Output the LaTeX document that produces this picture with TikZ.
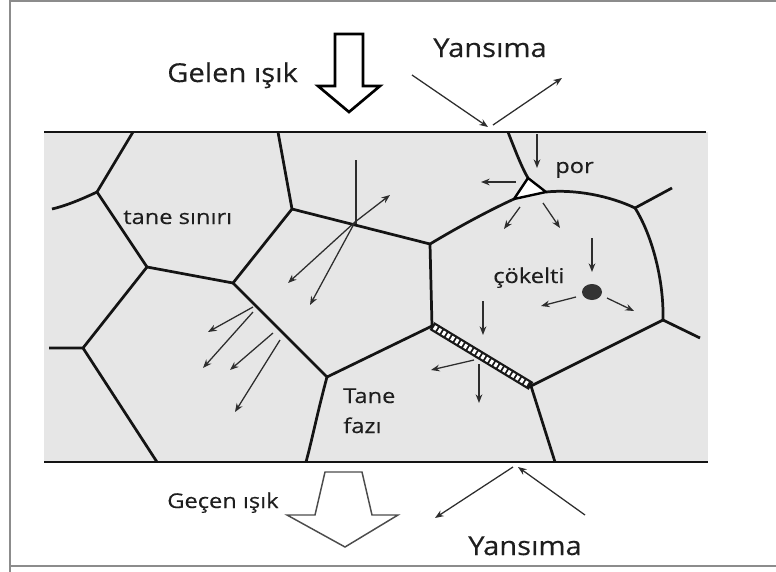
\documentclass[tikz,border=0pt]{standalone}
\usepackage{fontspec}
\setmainfont{Open Sans}
\newfontfamily\labelfont[FakeStretch=1.12, FakeBold=0.35]{Open Sans}
\newfontfamily\smalllabelfont[FakeStretch=1.16, FakeBold=0.35]{Open Sans}
\usetikzlibrary{arrows.meta,calc}
\definecolor{slabfill}{RGB}{230,230,230}
\definecolor{raycol}{RGB}{45,45,45}
\definecolor{framecol}{RGB}{140,140,140}
\definecolor{textcol}{RGB}{30,30,30}
\tikzset{
  boundary/.style={line width=2.05pt, black!92, line join=round},
  surface/.style={line width=2.2pt, black!92},
  lightray/.style={line width=0.95pt, draw=raycol, -{Stealth[length=6.5pt,width=5pt]}},
  plainray/.style={line width=0.95pt, draw=raycol},
  biglabel/.style={font=\labelfont\fontsize{19.5}{22}\selectfont, text=textcol, inner sep=0pt},
  smalllabel/.style={font=\smalllabelfont\fontsize{15.3}{17}\selectfont, text=textcol, inner sep=0pt},
  hollow/.style={fill=white, draw=black, line join=miter}
}
\begin{document}
\begin{tikzpicture}[x=0.75pt,y=-0.75pt]
\useasboundingbox (0,0) rectangle (776,572);
% outer frame
\draw[framecol, line width=1.5pt] (10,572) -- (10,1) -- (776,1);
\draw[framecol, line width=1.5pt] (10,566) -- (776,566);

% the specimen slab
\fill[slabfill] (44,132) rectangle (708,462);

% grain junctions
\coordinate (A1) at (133,132);
\coordinate (J1) at (97,192);
\coordinate (L1) at (52,209);
\coordinate (J2) at (147,267);
\coordinate (J3) at (83,348);
\coordinate (L2) at (49,348);
\coordinate (B1) at (157,462);
\coordinate (J4) at (233,283);
\coordinate (J5) at (292,209);
\coordinate (T2) at (278,132);
\coordinate (J6) at (430,244);
\coordinate (J7) at (327,377);
\coordinate (B2) at (306,462);
\coordinate (J8) at (432,326);
\coordinate (J9) at (531,386);
\coordinate (B3) at (555,462);
\coordinate (J10) at (663,320);
\coordinate (R1) at (700,338);
\coordinate (J11) at (635,208);
\coordinate (R2) at (672,188);
\coordinate (T3) at (508,132);
% pore corners
\coordinate (Pt) at (528,178);
\coordinate (Pl) at (514,199);
\coordinate (Pr) at (546,192);

% grain boundaries
\draw[boundary] (A1) -- (J1) -- (J2);
\draw[boundary] (J1) .. controls (80,200) and (65,206) .. (L1);
\draw[boundary] (J2) -- (J4);
\draw[boundary] (J2) -- (J3) -- (L2);
\draw[boundary] (J3) -- (B1);
\draw[boundary] (J4) -- (J5) -- (T2);
\draw[boundary] (J5) -- (J6);
\draw[boundary] (J4) -- (J7) -- (J8);
\draw[boundary] (J7) .. controls (318,410) and (312,440) .. (B2);
\draw[boundary] (J6) -- (J8);
\draw[boundary] (J6) .. controls (460,226) and (490,210) .. (Pl);
\draw[boundary] (T3) .. controls (515,150) and (522,168) .. (Pt);
\draw[boundary] (Pr) .. controls (575,189) and (610,196) .. (J11);
\draw[boundary] (J11) -- (R2);
\draw[boundary] (J11) .. controls (652,235) and (664,280) .. (J10);
\draw[boundary] (J10) -- (R1);
\draw[boundary] (J10) -- (J9) -- (B3);

% pore
\draw[line width=1.8pt, fill=white, line join=round] (Pt) -- (Pl) -- (Pr) -- cycle;

% grain-boundary phase (dotted band)
\draw[line width=6.8pt, black!90] (J8) -- (J9);
\draw[line width=3.4pt, white, dash pattern=on 2.3pt off 1.5pt] ($(J8)!0.02!(J9)$) -- ($(J8)!0.98!(J9)$);

% precipitate
\fill[black!80] (592,292) ellipse [x radius=10, y radius=8];

% surfaces
\draw[surface] (44,132) -- (706,132);
\draw[surface] (44,462) -- (708,462);

% incident light
\draw[hollow, line width=2pt] (335,34) -- (363,34) -- (363,86) -- (380,86) -- (349,112) -- (318,86) -- (335,86) -- cycle;
\node[biglabel, anchor=base west] (gelen) at (167,82) {Gelen ışık};

% reflection at the top surface
\draw[lightray] (412,75) -- (488,127);
\draw[lightray] (493,125) -- (562,78);
\node[biglabel, anchor=base west] (yansima1) at (433,57) {Yansıma};

% scattering at a grain boundary
\coordinate (s1) at (355,222);
\draw[plainray] (356,160) -- (356,224);
\draw[lightray] (s1) -- (390,195);
\draw[lightray] (s1) -- (288,283);
\draw[lightray] (s1) -- (310,305);

% scattering at the inclined boundary
\draw[lightray] (253,307) -- (208,332);
\draw[lightray] (253,312) -- (203,368);
\draw[lightray] (273,333) -- (230,370);
\draw[lightray] (280,340) -- (235,412);

% scattering at the pore
\draw[lightray] (537,134) -- (537,168);
\draw[lightray] (516,182) -- (481,182);
\draw[lightray] (520,207) -- (504,229);
\draw[lightray] (543,203) -- (560,228);
\node[smalllabel, anchor=base west] (por) at (555,173) {por};

% scattering at the precipitate
\draw[lightray] (592,238) -- (592,272);
\draw[lightray] (576,297) -- (541,306);
\draw[lightray] (607,298) -- (634,311);
\node[smalllabel, anchor=base west] (cok) at (493,283) {çökelti};

% scattering at the grain-boundary phase
\draw[lightray] (483,301) -- (483,335);
\draw[lightray] (474,360) -- (431,370);
\draw[lightray] (479,364) -- (479,403);

% labels inside the slab
\node[smalllabel, anchor=base west] (sinir) at (123,224) {tane sınırı};
\node[smalllabel, anchor=base west] (tane) at (343,403) {Tane};
\node[smalllabel, anchor=base west] (fazi) at (343,433) {fazı};

% transmitted light
\draw[hollow, line width=1.1pt, draw=black!70] (325,472) -- (362,472) -- (372,515) -- (398,515) -- (345,547) -- (287,515) -- (315,515) -- cycle;
\node[smalllabel, anchor=base west] (gecen) at (167,508) {Geçen ışık};

% reflection at the bottom surface
\draw[lightray] (585,515) -- (518,467);
\draw[lightray] (513,467) -- (435,518);
\node[biglabel, anchor=base west] (yansima2) at (468,555) {Yansıma};
\end{tikzpicture}
\end{document}
